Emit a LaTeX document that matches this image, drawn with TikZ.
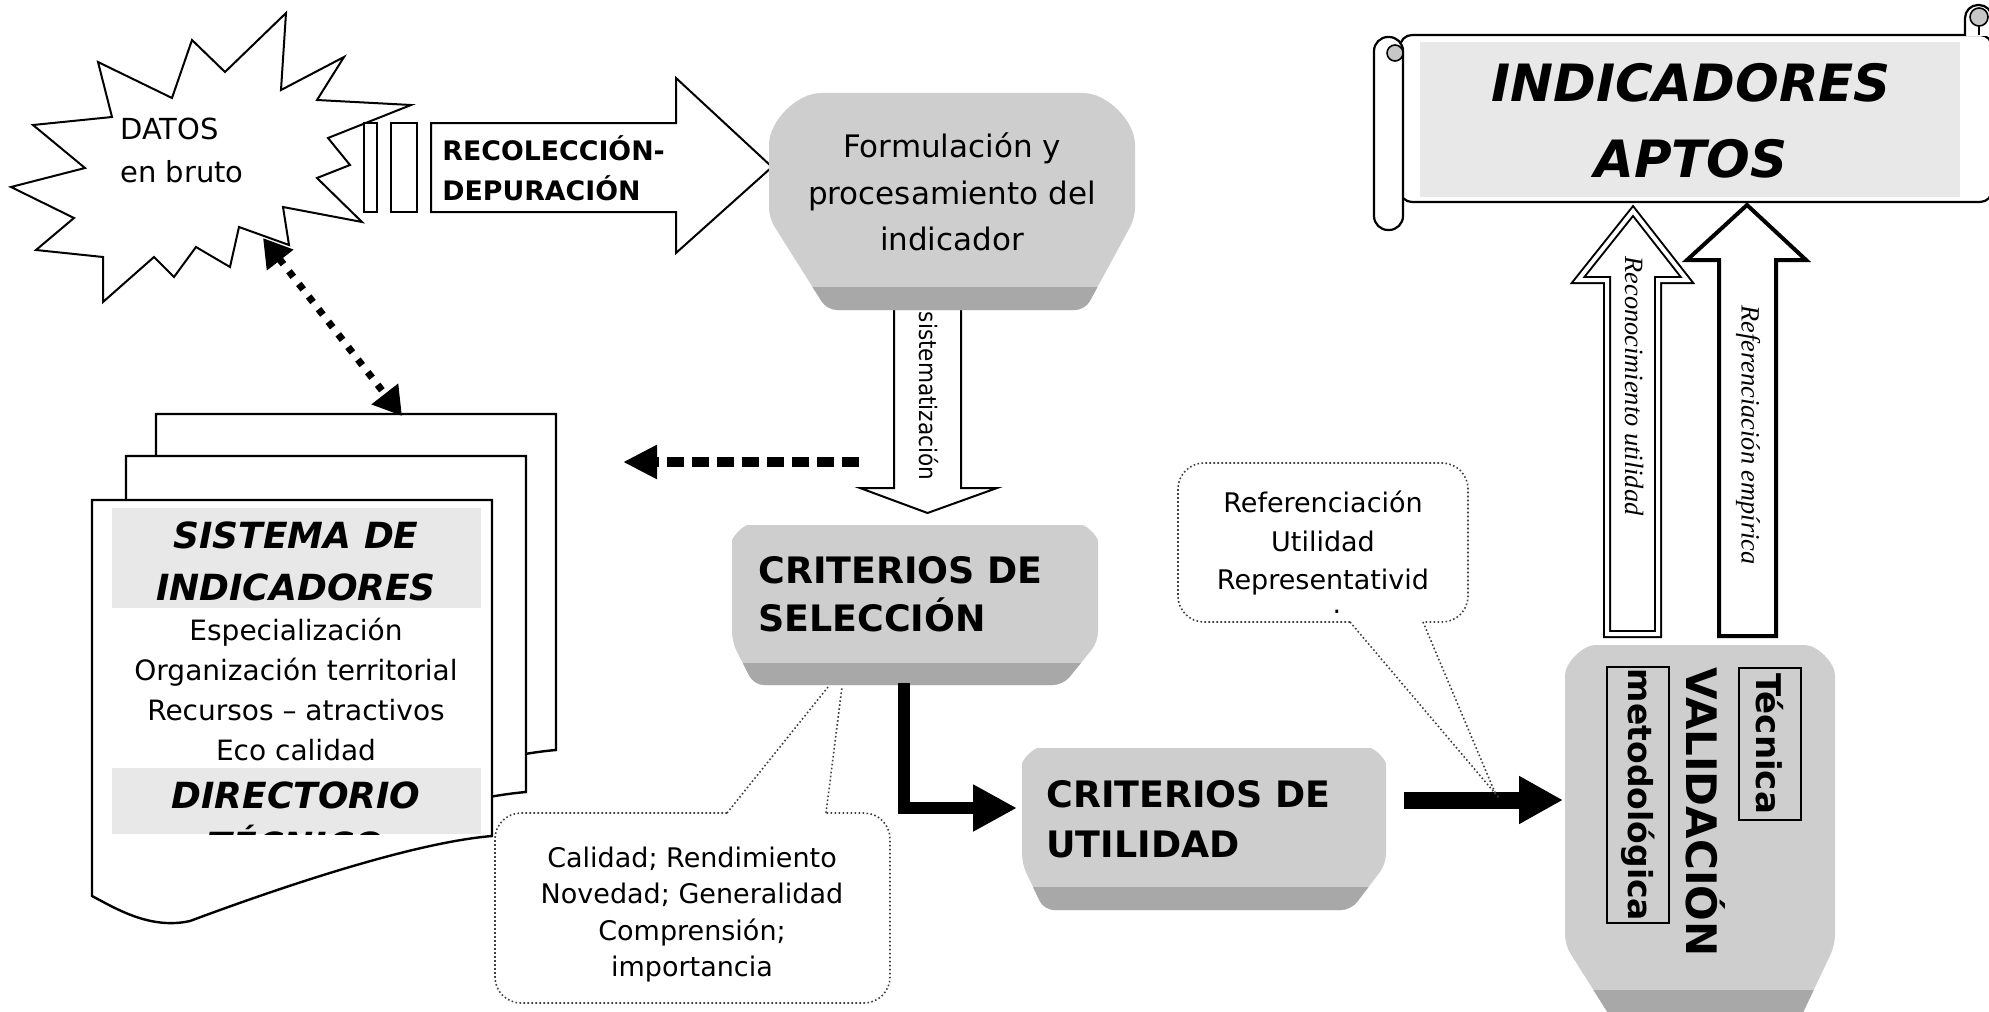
\documentclass[tikz,border=0pt]{standalone}
\usepackage{fontspec}
\setmainfont{DejaVu Sans}[BoldFont=DejaVu Sans Bold, ItalicFont=DejaVu Sans Oblique, BoldItalicFont=DejaVu Sans Bold Oblique]
\newfontfamily\timesf{Liberation Serif}
\usetikzlibrary{arrows.meta}
\definecolor{gbody}{RGB}{206,206,206}
\definecolor{gdark}{RGB}{168,168,168}
\definecolor{gband}{RGB}{232,232,232}
% #1 x1, #2 y1, #3 x2, #4 y2, #5 band top, #6 slant start, #7 left inset, #8 right inset, #9 corner radius (px)
\newcommand{\gshape}[9]{%
  \begin{scope}
    \path[fill=gbody, rounded corners=5pt] (#1+#7,#4) -- (#1,#6) -- (#1,#2+#9) .. controls (#1,#2+0.45*#9) and (#1+0.45*#9,#2) .. (#1+#9,#2)
      -- (#3-#9,#2) .. controls (#3-0.45*#9,#2) and (#3,#2+0.45*#9) .. (#3,#2+#9) -- (#3,#6) -- (#3-#8,#4) -- cycle;
    \clip[rounded corners=5pt] (#1+#7,#4) -- (#1,#6) -- (#1,#2+#9) .. controls (#1,#2+0.45*#9) and (#1+0.45*#9,#2) .. (#1+#9,#2)
      -- (#3-#9,#2) .. controls (#3-0.45*#9,#2) and (#3,#2+0.45*#9) .. (#3,#2+#9) -- (#3,#6) -- (#3-#8,#4) -- cycle;
    \fill[gdark] (#1,#5) rectangle (#3,#4+5);
  \end{scope}}
\newcommand{\docpage}[2]{%
  \draw[outl, line width=1.2pt, shift={(#1,#2)}] (92,896) -- (92,500) -- (492,500) -- (492,836)
    .. controls (420,842) and (300,880) .. (190,921) .. controls (150,930) and (115,908) .. (92,896) -- cycle;}
\begin{document}
\begin{tikzpicture}[x=0.5pt,y=-0.5pt,line join=miter,
  outl/.style={draw=black, line width=1pt, fill=white},
  bodytxt/.style={font=\fontsize{14}{16}\selectfont, inner sep=0pt, anchor=base},
  smalltxt/.style={font=\fontsize{13.5}{16}\selectfont, inner sep=0pt, anchor=base},
  formtxt/.style={font=\fontsize{15.5}{18}\selectfont, inner sep=0pt, anchor=base},
  critxt/.style={font=\bfseries\fontsize{18.2}{21}\selectfont, inner sep=0pt, anchor=base west},
  recotxt/.style={font=\bfseries\fontsize{13.4}{16}\selectfont, inner sep=0pt, anchor=base west},
  doctitle/.style={font=\bfseries\itshape\fontsize{18}{21}\selectfont, inner sep=0pt, anchor=base},
  scrolltxt/.style={font=\bfseries\itshape\fontsize{25.7}{30}\selectfont, inner sep=0pt, anchor=base},
  vtxt/.style={font=\timesf\itshape\fontsize{13.2}{15}\selectfont, inner sep=0pt, rotate=-90},
  valtxt/.style={font=\bfseries\fontsize{17}{20}\selectfont, rotate=-90, draw=black, line width=1pt, inner sep=0pt, minimum height=31pt},
  callout/.style={draw=black!75, line width=0.8pt, dash pattern=on 0.8pt off 1.2pt},
  bigtip/.style={-{Triangle[length=22pt,width=22pt]}}
]
\useasboundingbox (0,0) rectangle (1989,1011);
\clip (0,0) rectangle (1989,1011);

% ---- starburst DATOS
\draw[outl] (286,13) -- (281,90) -- (344,57) -- (317,100) -- (411,105) -- (328,138) -- (350,165) -- (317,178)
  -- (362,222) -- (283,207) -- (289,245) -- (239,227) -- (230,267) -- (196,247) -- (174,277) -- (154,257)
  -- (103,302) -- (103,257) -- (36,250) -- (74,218) -- (11,187) -- (85,168) -- (33,125) -- (112,117)
  -- (98,62) -- (172,98) -- (192,40) -- (225,72) -- cycle;
\node[bodytxt, font=\fontsize{14.5}{16}\selectfont, anchor=base west] (datos1) at (120,140) {DATOS};
\node[bodytxt, font=\fontsize{14.5}{16}\selectfont, anchor=base west] (datos2) at (120,182) {en bruto};

% ---- RECOLECCION arrow
\draw[outl] (364,123) rectangle (377,212);
\draw[outl] (391,123) rectangle (417,212);
\draw[outl] (431,123) -- (676,123) -- (676,78) -- (772,167) -- (676,253) -- (676,212) -- (431,212) -- cycle;
\node[recotxt] (rec1) at (442,160) {RECOLECCIÓN-};
\node[recotxt] (rec2) at (442,200) {DEPURACIÓN};

% ---- sistematizacion arrow
\draw[outl] (894,300) -- (894,488) -- (860,488) -- (927.5,513) -- (997,488) -- (961,488) -- (961,300);
\node[font=\fontsize{12}{14}\selectfont, rotate=-90, inner sep=0pt] (sist) at (929,396) {\scalebox{0.9}[1]{sistematización}};

% ---- Formulacion box
\gshape{769}{93}{1135}{310}{287}{218}{58}{50}{62}
\node[formtxt] (f1) at (952,157) {Formulación y};
\node[formtxt] (f2) at (952,204) {procesamiento del};
\node[formtxt] (f3) at (952,250) {indicador};

% ---- dashed arrow to documents
\coordinate (dashS) at (859,462);
\coordinate (dashE) at (623,462);
\draw[line width=5pt, dash pattern=on 8.5pt off 4pt, -{Triangle[length=17pt,width=16pt]}] (dashS) -- (dashE);

% ---- documents
\docpage{64}{-86}
\docpage{34}{-44}
\docpage{0}{0}
\fill[gband] (112,508) rectangle (481,608);
\node[doctitle] (st1) at (296,548) {SISTEMA DE};
\node[doctitle] (st2) at (296,600) {INDICADORES};
\node[bodytxt] (e1) at (296,640) {Especialización};
\node[bodytxt] (e2) at (296,680) {Organización territorial};
\node[bodytxt] (e3) at (296,720) {Recursos – atractivos};
\node[bodytxt] (e4) at (296,760) {Eco calidad};
\begin{scope}
  \clip (112,768) rectangle (481,834);
  \fill[gband] (112,768) rectangle (481,834);
  \node[doctitle] (dir1) at (296,808) {DIRECTORIO};
  \node[doctitle] (dir2) at (296,858) {TÉCNICO};
\end{scope}

% ---- dotted double arrow
\coordinate (burstTip) at (263,238);
\coordinate (docTip) at (402,416);
\draw[line width=3.5pt, dash pattern=on 3.5pt off 4.5pt,
  {Triangle[length=14pt,width=16pt]}-{Triangle[length=14pt,width=16pt]}] (burstTip) -- (docTip);

% ---- callout Calidad
\draw[callout, rounded corners=13pt] (727,813) -- (495,813) -- (495,1003) -- (890,1003) -- (890,813) -- (826,813);
\draw[callout] (727,813) -- (828,687);
\draw[callout] (826,813) -- (842,687);
\node[smalltxt] (c1) at (692,867) {Calidad; Rendimiento};
\node[smalltxt] (c2) at (692,903) {Novedad; Generalidad};
\node[smalltxt] (c3) at (692,940) {Comprensión;};
\node[smalltxt] (c4) at (692,976) {importancia};

% ---- Criterios de seleccion
\gshape{732}{525}{1098}{685}{663}{642}{22}{35}{26}
\node[critxt] (cs1) at (758,583) {CRITERIOS DE};
\node[critxt] (cs2) at (758,631) {SELECCIÓN};

% ---- L arrow
\coordinate (lS) at (904,683);
\coordinate (lC) at (904,808);
\coordinate (lE) at (1017,808);
\draw[line width=6pt, bigtip] (lS) -- (lC) -- (lE);

% ---- Criterios de utilidad
\gshape{1022}{748}{1386}{910}{887}{864}{22}{35}{26}
\node[critxt] (cu1) at (1046,807) {CRITERIOS DE};
\node[critxt] (cu2) at (1046,857) {UTILIDAD};

% ---- arrow to validacion
\coordinate (aS) at (1404,800);
\coordinate (aE) at (1563,800);
\draw[line width=8.5pt, -{Triangle[length=22pt,width=22.5pt]}] (aS) -- (aE);

% ---- callout Referenciacion
\draw[callout, rounded corners=13pt] (1350,622) -- (1178,622) -- (1178,463) -- (1468,463) -- (1468,622) -- (1423,622);
\draw[callout] (1350,622) -- (1499,798);
\draw[callout] (1423,622) -- (1496,795);
\node[smalltxt] (r1) at (1323,512) {Referenciación};
\node[smalltxt] (r2) at (1323,551) {Utilidad};
\node[smalltxt] (r3) at (1323,589) {Representativid};
\node[smalltxt] (r4) at (1337,613) {.};

% ---- Validacion box
\gshape{1565}{645}{1835}{1040}{990}{945}{60}{45}{40}
\node[valtxt, minimum width=128pt, font=\bfseries\fontsize{16.5}{20}\selectfont] (met) at (1638,795) {metodológica};
\node[font=\bfseries\fontsize{21}{24}\selectfont, rotate=-90, inner sep=0pt, anchor=base] (val) at (1686,812) {VALIDACIÓN};
\node[valtxt, minimum width=76pt] (tec) at (1769.5,743.5) {Técnica};

% ---- scroll
\draw[outl, line width=1.1pt, rounded corners=6pt] (1400,35) rectangle (1992,202);
\draw[outl, line width=1.1pt, rounded corners=6.5pt] (1965,36) -- (1965,5) -- (1992,5) -- (1992,36);
\draw[line width=0.8pt, fill=black!22] (1979,17) circle[radius=9];
\draw[line width=0.8pt] (1979,26) -- (1979,35);
\draw[outl, line width=1.1pt, rounded corners=7pt] (1374,37) rectangle (1403,230);
\draw[line width=0.8pt, fill=black!22] (1395,53) circle[radius=8];
\fill[gband] (1420,42) rectangle (1960,197);
\node[scrolltxt] (ia1) at (1691,102) {INDICADORES};
\node[scrolltxt] (ia2) at (1691,177) {APTOS};

% ---- up arrows
\draw[draw=black, line width=1pt, double=white, double distance=2pt, fill=white]
  (1607,634) -- (1607,280) -- (1578,280) -- (1633,211) -- (1687,280) -- (1658,280) -- (1658,634) -- cycle;
\draw[outl, line width=2pt] (1719,636) -- (1719,260) -- (1687,260) -- (1747,205) -- (1806,260) -- (1776,260) -- (1776,636) -- cycle;
\node[vtxt] (ru) at (1634,386) {Reconocimiento utilidad};
\node[vtxt] (re) at (1748,435) {Referenciación empírica};
\end{tikzpicture}
\end{document}
